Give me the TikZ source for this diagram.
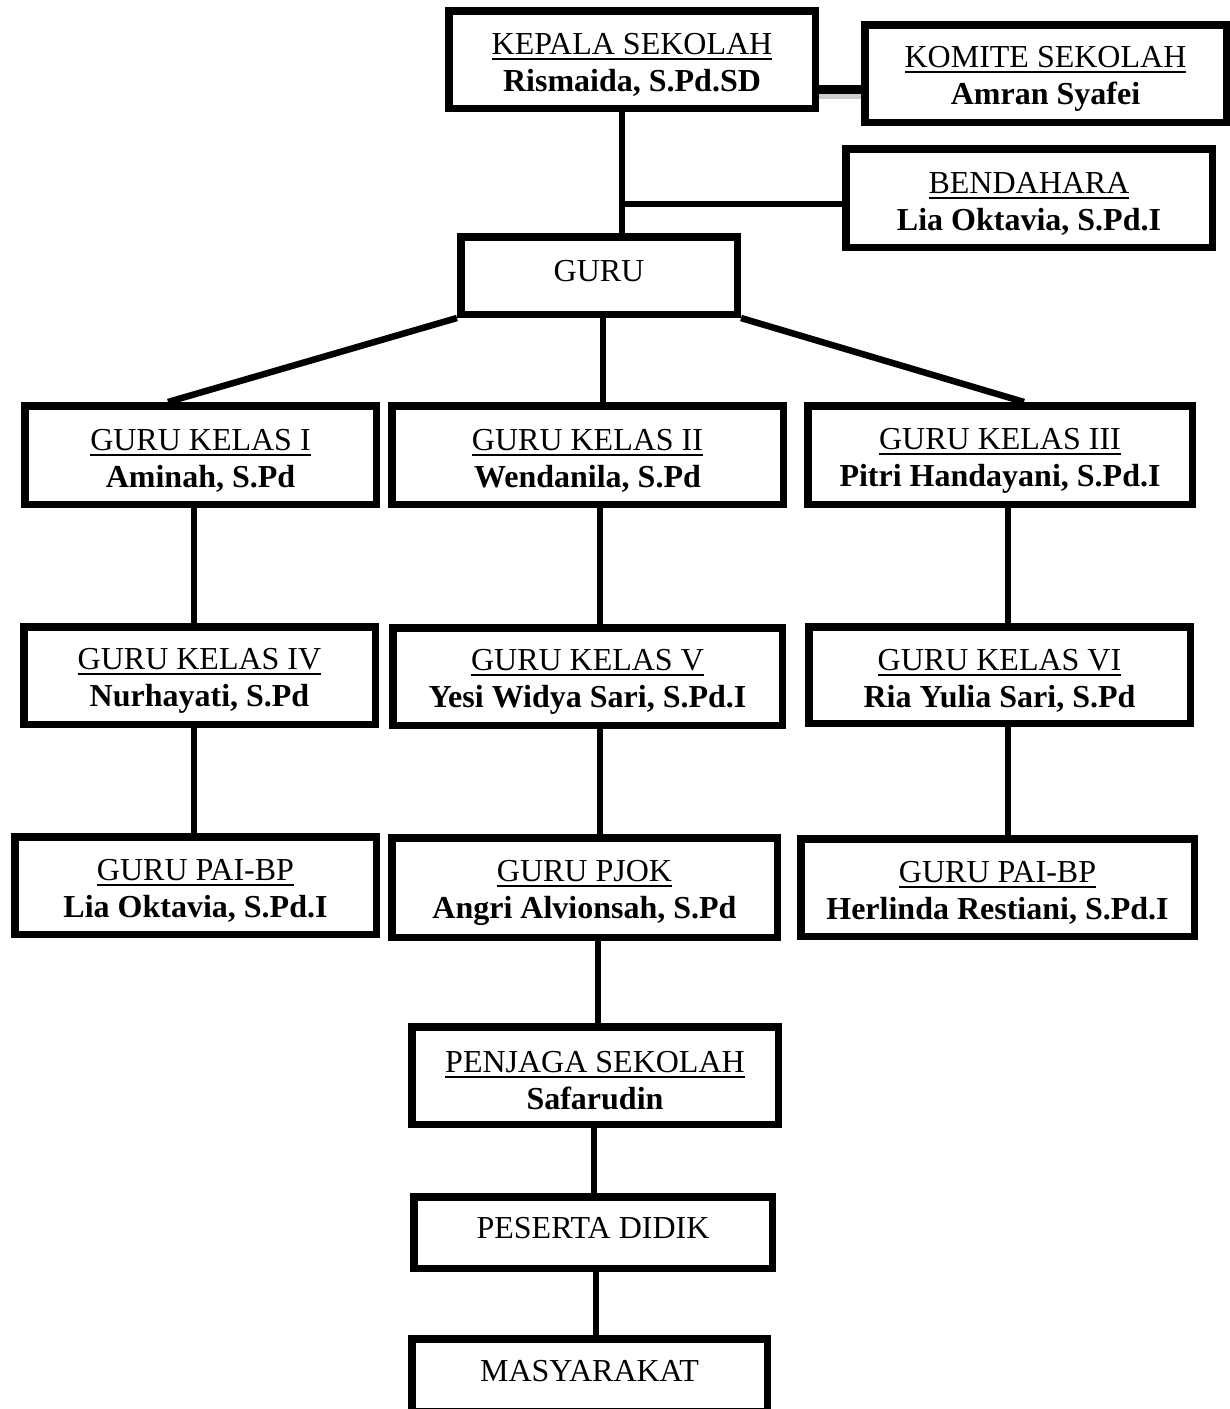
\documentclass[tikz,border=0pt]{standalone}
\usepackage{fontspec}
\setmainfont{Liberation Serif}
\newcommand\myul[1]{\setbox0\hbox{#1}\rlap{\rule[-5.5pt]{\wd0}{2pt}}\box0}
\tikzset{
  org/.style={draw, line width=7.5pt, inner sep=0pt},
  txt/.style={font=\fontsize{32}{37}\selectfont, align=center, inner sep=0pt},
  two/.style={label={[txt, yshift=-5.5pt]center:{#1}}},
  one/.style={label={[txt, yshift=4pt]center:{#1}}},
  link/.style={line width=6.5pt},
}
\begin{document}
\begin{tikzpicture}[x=1pt,y=-1pt]
\path[use as bounding box, clip] (0,0) rectangle (1230,1409);
\fill[white] (0,0) rectangle (1230,1409);

% boxes
\node[org, minimum width=366.5pt, minimum height=97.5pt,
  two={\myul{KEPALA SEKOLAH}\\\textbf{Rismaida, S.Pd.SD}}] (kepala) at (632,59.5) {};
\node[org, minimum width=361.5pt, minimum height=97.5pt,
  two={\myul{KOMITE SEKOLAH}\\\textbf{Amran Syafei}}] (komite) at (1045.5,73.5) {};
\node[org, minimum width=366.5pt, minimum height=98.5pt,
  two={\myul{BENDAHARA}\\\textbf{Lia Oktavia, S.Pd.I}}] (bend) at (1029,198) {};
\node[org, minimum width=276.5pt, minimum height=77.5pt,
  one={GURU}] (guru) at (599,275.5) {};

\node[org, minimum width=351.5pt, minimum height=98.5pt,
  two={\myul{GURU KELAS I}\\\textbf{Aminah, S.Pd}}] (k1) at (200.5,455) {};
\node[org, minimum width=391.5pt, minimum height=98.5pt,
  two={\myul{GURU KELAS II}\\\textbf{Wendanila, S.Pd}}] (k2) at (587.5,455) {};
\node[org, minimum width=384.5pt, minimum height=98.5pt,
  two={\myul{GURU KELAS III}\\\textbf{Pitri Handayani, S.Pd.I}}] (k3) at (1000,455) {};

\node[org, minimum width=351.5pt, minimum height=97.5pt,
  two={\myul{GURU KELAS IV}\\\textbf{Nurhayati, S.Pd}}] (k4) at (199.5,675.5) {};
\node[org, minimum width=389.5pt, minimum height=97.5pt,
  two={\myul{GURU KELAS V}\\\textbf{Yesi Widya Sari, S.Pd.I}}] (k5) at (587.5,676.5) {};
\node[org, minimum width=381.5pt, minimum height=96.5pt,
  two={\myul{GURU KELAS VI}\\\textbf{Ria Yulia Sari, S.Pd}}] (k6) at (999.5,675) {};

\node[org, minimum width=361.5pt, minimum height=97.5pt,
  two={\myul{GURU PAI-BP}\\\textbf{Lia Oktavia, S.Pd.I}}] (pai1) at (195.5,885.5) {};
\node[org, minimum width=385.5pt, minimum height=99.5pt,
  two={\myul{GURU PJOK}\\\textbf{Angri Alvionsah, S.Pd}}] (pjok) at (584.5,887.5) {};
\node[org, minimum width=393.5pt, minimum height=97.5pt,
  two={\myul{GURU PAI-BP}\\\textbf{Herlinda Restiani, S.Pd.I}}] (pai2) at (997.5,887.5) {};

\node[org, minimum width=366.5pt, minimum height=97.5pt,
  two={\myul{PENJAGA SEKOLAH}\\\textbf{Safarudin}}] (penjaga) at (595,1075.5) {};
\node[org, minimum width=358.5pt, minimum height=71.5pt,
  one={PESERTA DIDIK}] (peserta) at (593,1232.5) {};
\node[org, minimum width=355.5pt, minimum height=72.5pt,
  one={MASYARAKAT}] (masy) at (589.5,1375) {};

% helper coordinates for connector columns / rows
\coordinate (kk) at (0,89);
\coordinate (kks) at (0,96.5);
\coordinate (jb) at (622,204);
\coordinate (cg) at (603,0);
\coordinate (sl) at (168,0);
\coordinate (sr) at (1024,0);
\coordinate (c1) at (194,0);
\coordinate (c2) at (600,0);
\coordinate (c3) at (1008,0);
\coordinate (cp) at (598,0);
\coordinate (cq) at (594,0);
\coordinate (cr) at (596,0);

% connectors
\draw[gray!40, line width=5pt] (kepala.east |- kks) -- (komite.west |- kks);
\draw[line width=9pt] (kepala.east |- kk) -- (komite.west |- kk);
\draw[link] (kepala.south -| jb) -- (guru.north -| jb);
\draw[link] (jb) -- (bend.west |- jb);
\draw[link] (guru.south west) -- (k1.north -| sl);
\draw[link] (guru.south -| cg) -- (k2.north -| cg);
\draw[link] (guru.south east) -- (k3.north -| sr);
\draw[link] (k1.south -| c1) -- (k4.north -| c1);
\draw[link] (k4.south -| c1) -- (pai1.north -| c1);
\draw[link] (k2.south -| c2) -- (k5.north -| c2);
\draw[link] (k5.south -| c2) -- (pjok.north -| c2);
\draw[link] (k3.south -| c3) -- (k6.north -| c3);
\draw[link] (k6.south -| c3) -- (pai2.north -| c3);
\draw[link] (pjok.south -| cp) -- (penjaga.north -| cp);
\draw[link] (penjaga.south -| cq) -- (peserta.north -| cq);
\draw[link] (peserta.south -| cr) -- (masy.north -| cr);
\end{tikzpicture}
\end{document}
